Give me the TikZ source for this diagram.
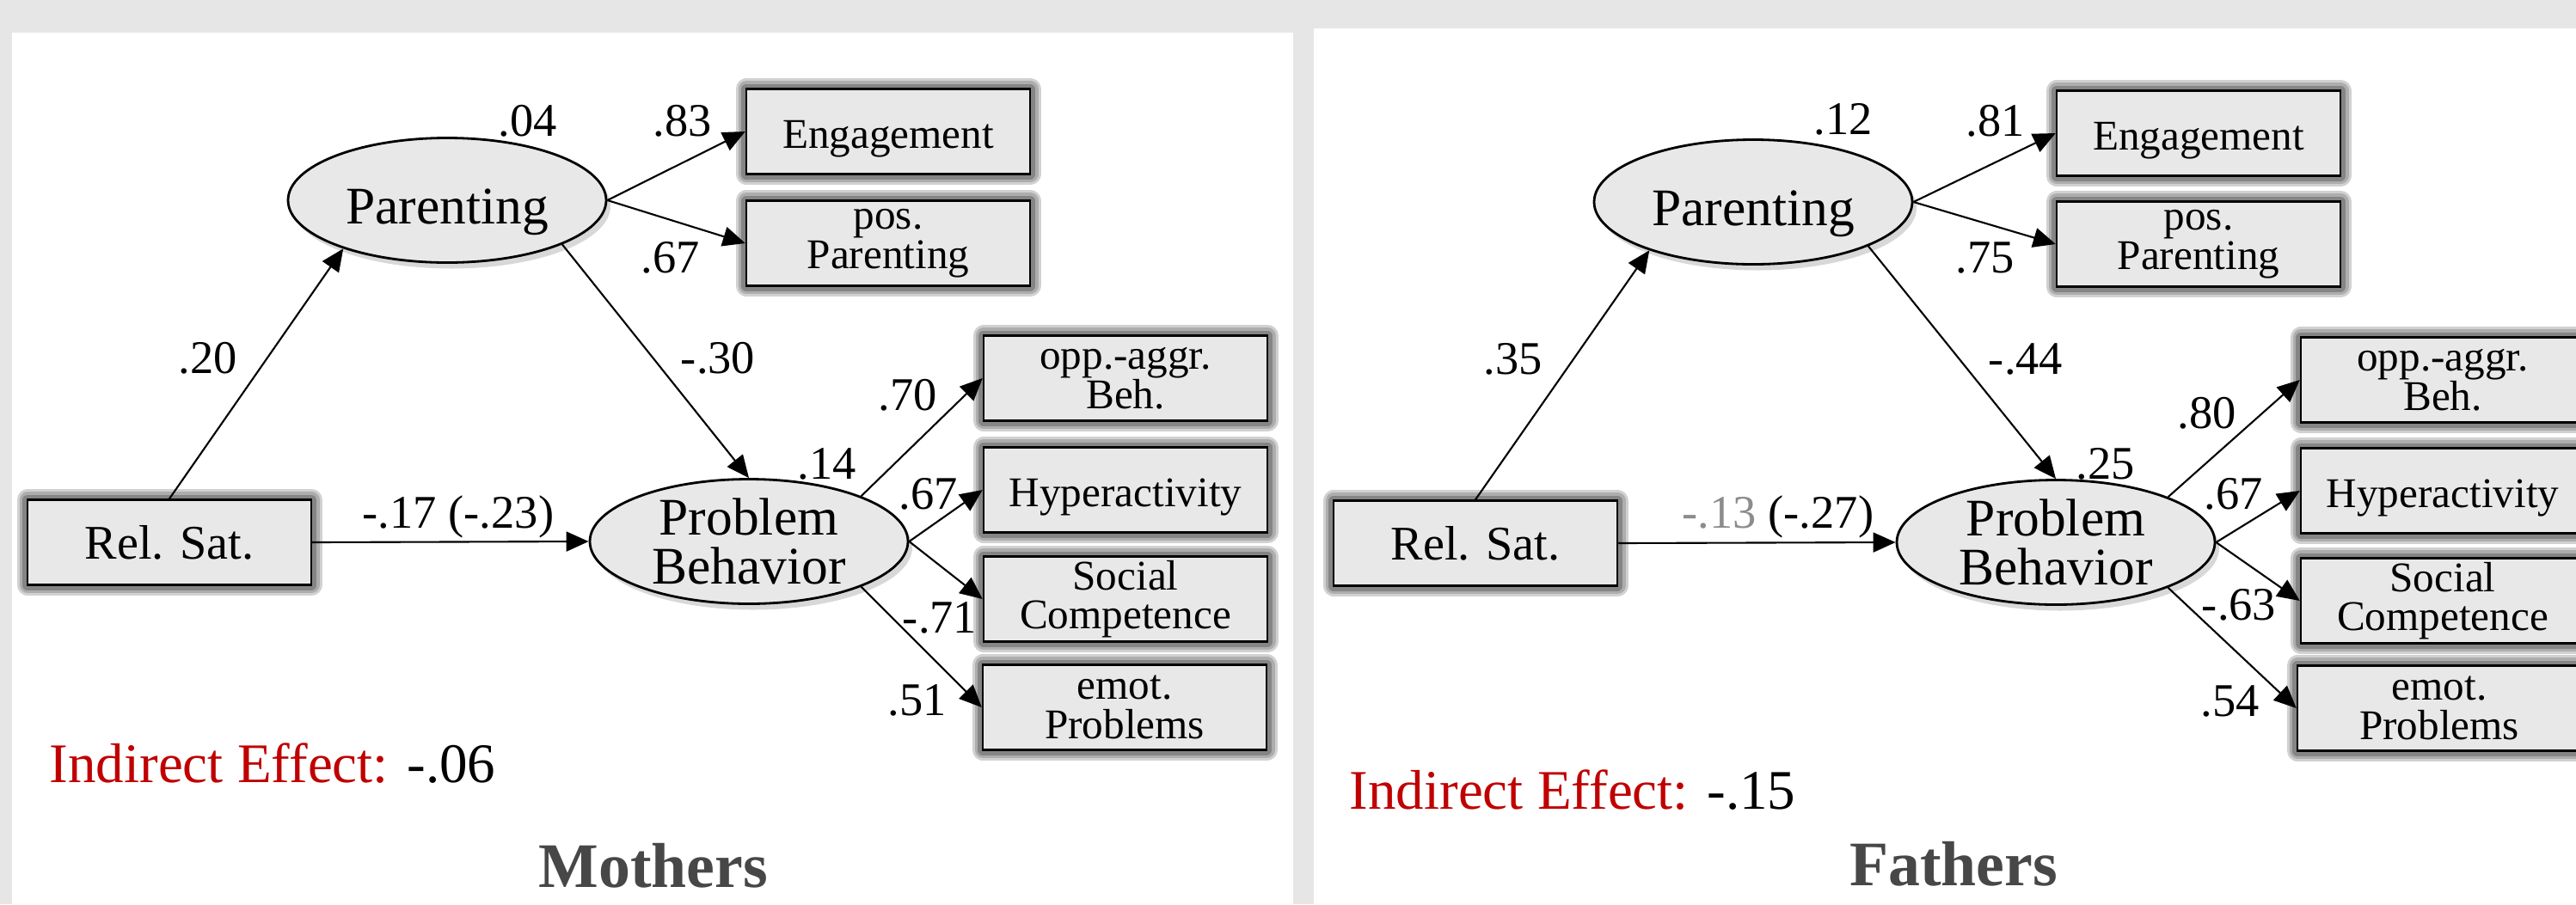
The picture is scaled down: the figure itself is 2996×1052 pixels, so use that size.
\documentclass[tikz,border=0pt]{standalone}
\usepackage{fontspec}
\setmainfont{Liberation Serif}
\usetikzlibrary{shapes.geometric,shadows,arrows.meta}

\definecolor{panelgray}{HTML}{E6E6E6}
\definecolor{nodefill}{HTML}{E8E8E8}
\definecolor{effred}{HTML}{C00000}
\definecolor{titlegray}{HTML}{474747}
\definecolor{nsgray}{HTML}{8C8C8C}

\tikzset{
  obsbox/.style={draw=black,line width=0.7pt,fill=nodefill,
    minimum width=33mm,minimum height=9.9mm,inner sep=0pt,align=center,
    font=\fontsize{14}{13}\selectfont,
    preaction={draw=black!18,line width=2.5mm,line join=round},
    preaction={draw=black!32,line width=1.9mm,line join=round},
    preaction={draw=black!48,line width=1.2mm,line join=round}},
  oneline/.style={text height=11pt,text depth=0pt},
  latent/.style={ellipse,draw=black,line width=0.8pt,fill=nodefill,
    minimum width=37mm,minimum height=14.5mm,inner sep=0pt,
    drop shadow={shadow xshift=0.5mm,shadow yshift=-0.7mm,fill=black!30}},
  latenttext/.style={font=\fontsize{17.5}{16}\selectfont,align=center,inner sep=0pt},
  coef/.style={font=\fontsize{15.5}{15.5}\selectfont,inner sep=0pt},
  arrowpath/.style={line width=0.6pt,-{Triangle[length=2.6mm,width=2.3mm]}},
  effect/.style={anchor=base west,font=\fontsize{18.5}{18.5}\selectfont,inner sep=0pt},
  paneltitle/.style={anchor=base,font=\bfseries\fontsize{21}{21}\selectfont,text=titlegray,inner sep=0pt}
}

\begin{document}
\begin{tikzpicture}[x=0.1mm,y=-0.1mm]
\useasboundingbox (0,0) rectangle (2996,1052);
\clip (0,0) rectangle (2996,1052);
\fill[panelgray] (0,0) rectangle (2996,1052);
\fill[white] (14,38) rectangle (1504,1052);
\fill[white] (1528,33) rectangle (2996,1052);

% mothers
\node[obsbox,font=\fontsize{16}{16}\selectfont] (mRel) at (197,631) {Rel. Sat.};
\node[latent,label={[latenttext,text height=15.4pt,text depth=0pt]center:Parenting}] (mPar) at (520,233) {};
\node[latent,label={[latenttext]center:Problem\\Behavior}] (mPB) at (871,630) {};
\node[obsbox,oneline] (mEng) at (1033,153) {Engagement};
\node[obsbox] (mPos) at (1033,283) {pos.\\Parenting};
\node[obsbox] (mOpp) at (1309,440) {opp.-aggr.\\Beh.};
\node[obsbox,oneline] (mHyp) at (1309,570) {Hyperactivity};
\node[obsbox] (mSoc) at (1309,697) {Social\\Competence};
\node[obsbox] (mEmo) at (1308,823) {emot.\\Problems};

\draw[arrowpath] (mRel.north) -- (mPar.205);
\draw[arrowpath] (mPar.-21) -- (mPB.north);
\draw[arrowpath] (mRel.east) -- (mPB.west);
\draw[arrowpath] (mPar.east) -- (mEng.west);
\draw[arrowpath] (mPar.east) -- (mPos.west);
\draw[arrowpath] (mPB.22) -- (mOpp.west);
\draw[arrowpath] (mPB.east) -- (mHyp.west);
\draw[arrowpath] (mPB.east) -- (mSoc.west);
\draw[arrowpath] (mPB.-22) -- (mEmo.west);

\node[coef] (mR2Par) at (614,141) {.04};
\node[coef] (mLEng) at (794,141) {.83};
\node[coef] (mLPos) at (780,300) {.67};
\node[coef] (mLa) at (242,417) {.20};
\node[coef] (mLb) at (835,417) {-.30};
\node[coef] (mLc) at (533,601) {-.17 (-.23)};
\node[coef] (mR2PB) at (962,540) {.14};
\node[coef] (mLOpp) at (1056,460) {.70};
\node[coef] (mLHyp) at (1080,575) {.67};
\node[coef] (mLSoc) at (1093,719) {-.71};
\node[coef] (mLEmo) at (1067,815) {.51};

\node[effect] (mInd) at (57,910) {\textcolor{effred}{Indirect Effect:} -.06};
\node[paneltitle] (mTitle) at (760,1032) {Mothers};

% fathers
\begin{scope}[shift={(1519,0)}]
\node[obsbox,font=\fontsize{16}{16}\selectfont] (fRel) at (197,632) {Rel. Sat.};
\node[latent,label={[latenttext,text height=15.4pt,text depth=0pt]center:Parenting}] (fPar) at (520,235) {};
\node[latent,label={[latenttext]center:Problem\\Behavior}] (fPB) at (872,631) {};
\node[obsbox,oneline] (fEng) at (1038,155) {Engagement};
\node[obsbox] (fPos) at (1038,284) {pos.\\Parenting};
\node[obsbox] (fOpp) at (1322,442) {opp.-aggr.\\Beh.};
\node[obsbox,oneline] (fHyp) at (1322,571) {Hyperactivity};
\node[obsbox] (fSoc) at (1322,699) {Social\\Competence};
\node[obsbox] (fEmo) at (1318,824) {emot.\\Problems};

\draw[arrowpath] (fRel.north) -- (fPar.205);
\draw[arrowpath] (fPar.-21) -- (fPB.north);
\draw[arrowpath] (fRel.east) -- (fPB.west);
\draw[arrowpath] (fPar.east) -- (fEng.west);
\draw[arrowpath] (fPar.east) -- (fPos.west);
\draw[arrowpath] (fPB.22) -- (fOpp.west);
\draw[arrowpath] (fPB.east) -- (fHyp.west);
\draw[arrowpath] (fPB.east) -- (fSoc.west);
\draw[arrowpath] (fPB.-22) -- (fEmo.west);

\node[coef] (fR2Par) at (625,139) {.12};
\node[coef] (fLEng) at (802,141) {.81};
\node[coef] (fLPos) at (790,300) {.75};
\node[coef] (fLa) at (241,418) {.35};
\node[coef] (fLb) at (837,418) {-.44};
\node[coef] (fLc) at (549,601) {\textcolor{nsgray}{-.13} (-.27)};
\node[coef] (fR2PB) at (930,540) {.25};
\node[coef] (fLOpp) at (1048,481) {.80};
\node[coef] (fLHyp) at (1079,575) {.67};
\node[coef] (fLSoc) at (1085,704) {-.63};
\node[coef] (fLEmo) at (1075,816) {.54};

\node[effect] (fInd) at (50,941) {\textcolor{effred}{Indirect Effect:} -.15};
\node[paneltitle] (fTitle) at (753,1030) {Fathers};
\end{scope}
\end{tikzpicture}
\end{document}
